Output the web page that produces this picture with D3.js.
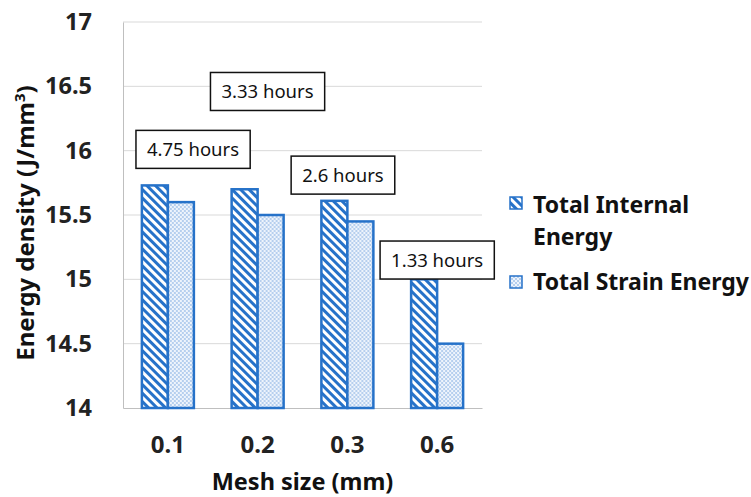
<!DOCTYPE html>
<html>
<head>
<meta charset="utf-8">
<script src="https://cdn.jsdelivr.net/npm/d3@7"></script>
<style>
  body { margin: 0; background: #fff; }
  svg { display: block; font-family: "Noto Sans", "Open Sans", sans-serif; }
</style>
</head>
<body>
<svg width="751" height="497"></svg>
<script>
const categories = ["0.1", "0.2", "0.3", "0.6"];
const internalEnergy = [15.73, 15.70, 15.61, 15.0];
const strainEnergy = [15.60, 15.50, 15.45, 14.5];
const yTicks = [14, 14.5, 15, 15.5, 16, 16.5, 17];
const seriesNames = ["Total Internal Energy", "Total Strain Energy"];
// run-time notes: position as fractional category index + energy value
const notes = [
  { text: "3.33 hours", idx: 1.11, val: 16.46 },
  { text: "4.75 hours", idx: 0.28, val: 16.01 },
  { text: "2.6 hours", idx: 1.95, val: 15.81 },
  { text: "1.33 hours", idx: 3.0, val: 15.15 }
];

const blue = "#2672c9";
let svg = d3.select("svg"),
    margin = { top: 22, right: 269, bottom: 89, left: 123 },
    width = +svg.attr("width") - margin.left - margin.right,
    height = +svg.attr("height") - margin.top - margin.bottom,
    g = svg.append("g").attr("transform", "translate(" + margin.left + "," + margin.top + ")");

// patterns
let defs = svg.append("defs");
let stripes = defs.append("pattern")
    .attr("id", "stripes")
    .attr("patternUnits", "userSpaceOnUse")
    .attr("width", 6).attr("height", 6)
    .attr("patternTransform", "rotate(-45)");
stripes.append("rect").attr("width", 6).attr("height", 6).attr("fill", "#fff");
stripes.append("rect").attr("width", 3).attr("height", 6).attr("fill", blue);

let dots = defs.append("pattern")
    .attr("id", "dots")
    .attr("patternUnits", "userSpaceOnUse")
    .attr("width", 4).attr("height", 4);
dots.append("rect").attr("width", 4).attr("height", 4).attr("fill", "#eef4fc");
dots.append("circle").attr("cx", 1).attr("cy", 1).attr("r", 0.8).attr("fill", "#6fa0dc");
dots.append("circle").attr("cx", 3).attr("cy", 3).attr("r", 0.8).attr("fill", "#6fa0dc");

let x = d3.scaleBand().domain(categories).range([0, width]).paddingInner(0).paddingOuter(0);
let xIdx = d3.scaleLinear().domain([0, 1]).range([x.bandwidth() / 2, x.bandwidth() * 1.5]);
let y = d3.scaleLinear().domain([14, 17]).range([height, 0]);
let barW = 26;

// gridlines
g.append("g")
    .selectAll("line")
    .data(yTicks.filter(d => d > 14))
    .enter().append("line")
    .attr("x1", 0).attr("x2", width)
    .attr("y1", d => y(d)).attr("y2", d => y(d))
    .attr("stroke", "#d9d9d9").attr("stroke-width", 1);

// axes
let yAxis = g.append("g")
    .call(d3.axisLeft(y).tickValues(yTicks).tickSize(0).tickPadding(31).tickFormat(d3.format("")));
yAxis.select(".domain").attr("stroke", "#bfbfbf");
yAxis.selectAll("text")
    .attr("font-size", 23.5).attr("font-weight", "bold").attr("fill", "#222")
    .attr("font-family", "Noto Sans");

let xAxis = g.append("g")
    .attr("transform", "translate(0," + height + ")")
    .call(d3.axisBottom(x).tickSize(0).tickPadding(28));
xAxis.select(".domain").attr("stroke", "#bfbfbf");
xAxis.selectAll("text")
    .attr("font-size", 24).attr("font-weight", "bold").attr("fill", "#222")
    .attr("font-family", "Noto Sans");

// bars
let groups = g.selectAll(".grp")
    .data(categories)
    .enter().append("g")
    .attr("class", "grp")
    .attr("transform", d => "translate(" + (x(d) + x.bandwidth() / 2) + ",0)");

groups.append("rect")
    .attr("x", -barW)
    .attr("y", (d, i) => y(internalEnergy[i]))
    .attr("width", barW)
    .attr("height", (d, i) => height - y(internalEnergy[i]))
    .attr("fill", "url(#stripes)")
    .attr("stroke", blue).attr("stroke-width", 2.5);

groups.append("rect")
    .attr("x", 0)
    .attr("y", (d, i) => y(strainEnergy[i]))
    .attr("width", barW)
    .attr("height", (d, i) => height - y(strainEnergy[i]))
    .attr("fill", "url(#dots)")
    .attr("stroke", blue).attr("stroke-width", 2.5);

// note boxes
let nb = g.selectAll(".note")
    .data(notes)
    .enter().append("g")
    .attr("class", "note")
    .attr("transform", d => "translate(" + xIdx(d.idx) + "," + y(d.val) + ")");
nb.append("text")
    .attr("text-anchor", "middle")
    .attr("dy", "0.35em")
    .attr("font-size", 18.5)
    .attr("fill", "#111")
    .text(d => d.text);
nb.each(function () {
    let b = d3.select(this).select("text").node().getBBox();
    d3.select(this).insert("rect", "text")
        .attr("x", b.x - 11).attr("y", -19)
        .attr("width", b.width + 22).attr("height", 38)
        .attr("fill", "#fff").attr("stroke", "#111").attr("stroke-width", 1.5);
});

// axis titles
svg.append("text")
    .attr("transform", "translate(34," + 223 + ") rotate(-90)")
    .attr("text-anchor", "middle")
    .attr("font-size", 24).attr("font-weight", "bold").attr("fill", "#111")
    .html("Energy density (J/mm<tspan dy='-9' font-size='15'>3</tspan><tspan dy='9'>)</tspan>");

svg.append("text")
    .attr("x", margin.left + width / 2)
    .attr("y", 490)
    .attr("text-anchor", "middle")
    .attr("font-size", 23.5).attr("font-weight", "bold").attr("fill", "#111")
    .text("Mesh size (mm)");

// legend
let legend = svg.append("g").attr("transform", "translate(509,0)");
legend.append("rect").attr("x", 1).attr("y", 197).attr("width", 12).attr("height", 12)
    .attr("fill", "url(#stripes)").attr("stroke", blue).attr("stroke-width", 1.5);
legend.append("text").attr("x", 24).attr("y", 213)
    .attr("font-size", 23).attr("font-weight", "bold").attr("fill", "#111")
    .text("Total Internal");
legend.append("text").attr("x", 24).attr("y", 245)
    .attr("font-size", 23).attr("font-weight", "bold").attr("fill", "#111")
    .text("Energy");
legend.append("rect").attr("x", 1).attr("y", 276).attr("width", 12).attr("height", 12)
    .attr("fill", "url(#dots)").attr("stroke", blue).attr("stroke-width", 1.5);
legend.append("text").attr("x", 24).attr("y", 290)
    .attr("font-size", 23).attr("font-weight", "bold").attr("fill", "#111")
    .text(seriesNames[1]);
</script>
</body>
</html>
